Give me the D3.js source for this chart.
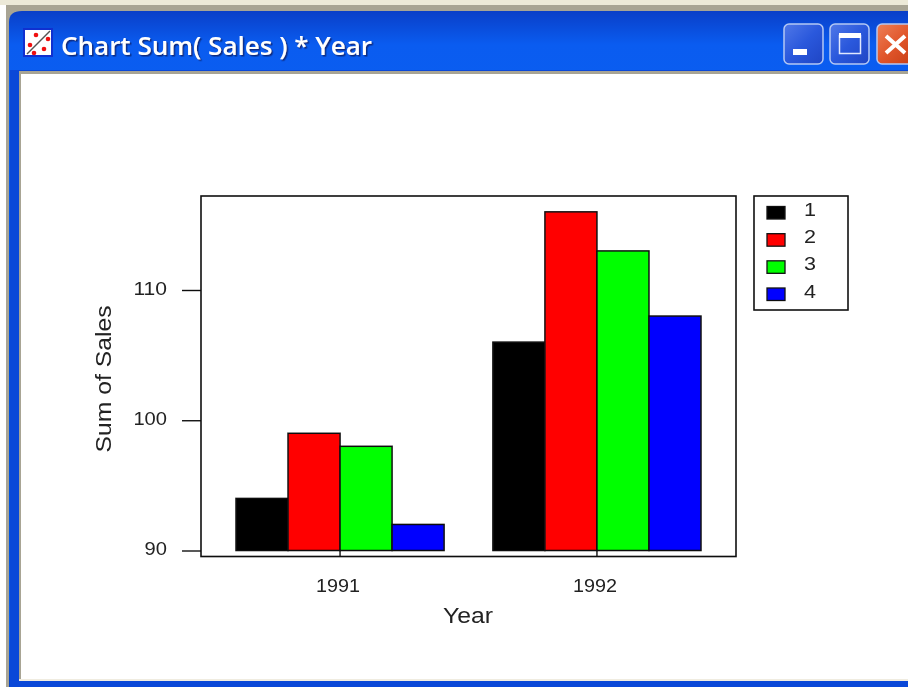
<!DOCTYPE html>
<html><head><meta charset="utf-8">
<script src="https://cdn.jsdelivr.net/npm/d3@7/dist/d3.min.js"></script>
<style>html,body{margin:0;padding:0;background:#fff;overflow:hidden}svg{display:block}text{font-family:"Liberation Sans",Arial,sans-serif}</style>
</head><body><script>
const years = ["1991","1992"];
const groups = ["1","2","3","4"];
const sales1991 = [94,99,98,92];
const sales1992 = [106,116,113,108];
const colors = ["#000000","#ff0000","#00ff00","#0000ff"];
const yTicks = [90,100,110];
const titleText = "Chart Sum( Sales ) * Year";
const xLabel = "Year", yLabel = "Sum of Sales";
const seriesByYear = [sales1991, sales1992];

const W=908,H=687;
const svg=d3.select("body").append("svg").attr("width",W).attr("height",H);
const defs=svg.append("defs");
const lg=(id,stops,x2=0,y2=1)=>{const g=defs.append("linearGradient").attr("id",id).attr("x1",0).attr("y1",0).attr("x2",x2).attr("y2",y2);
  stops.forEach(([o,c])=>g.append("stop").attr("offset",o).attr("stop-color",c));};
lg("tb",[[0,"#0a3fc8"],[0.05,"#0a5cf0"],[0.14,"#0b5ef0"],[0.5,"#0250dc"],[0.8,"#0255e2"],[0.92,"#0a62f4"],[1,"#0340c0"]]);
lg("btn",[[0,"#5078e8"],[0.5,"#2a58dc"],[1,"#1f45c4"]],1,1);
lg("cls",[[0,"#ee8058"],[0.5,"#e0552a"],[1,"#c43c14"]],1,1);
const f=defs.append("filter").attr("id","soft").attr("filterUnits","userSpaceOnUse").attr("x",0).attr("y",0).attr("width",W).attr("height",H);
f.append("feGaussianBlur").attr("stdDeviation",0.6);
const sh=defs.append("filter").attr("id","shadow").attr("x","-5%").attr("y","-20%").attr("width","110%").attr("height","140%");
sh.append("feDropShadow").attr("dx",1.5).attr("dy",1.5).attr("stdDeviation",0.7).attr("flood-color","#0a2a80").attr("flood-opacity",1);

// window frame
const R=(x,y,w,h,fill,g=svg)=>g.append("rect").attr("x",x).attr("y",y).attr("width",w).attr("height",h).attr("fill",fill);
R(0,0,W,H,"#ffffff");
R(0,0,W,5,"#ece9d8");
R(6,5,W-6,H-5,"#a8a494");
svg.append("path").attr("d",`M9 ${H}V22Q9 11 22 11H${W}V${H}Z`).attr("fill","url(#tb)");
R(10,70,W-10,H-70,"#0a48d8");
R(19,71,W-19,3,"#a8a494");
R(19,71,2,H-71-6,"#a8a494");
R(21,74,W-21,606,"#ffffff");
R(19,679,W-19,2,"#f0ece0");

// title icon
const ic=svg.append("g");
R(23,28,30,29,"#1030d0",ic);
R(25,30,26,25,"#ffffff",ic);
ic.append("line").attr("x1",27).attr("y1",54).attr("x2",50).attr("y2",31).attr("stroke","#555").attr("stroke-width",1.5);
[[36,35],[48,39],[30,45],[44,49],[34,53]].forEach(([x,y])=>ic.append("circle").attr("cx",x).attr("cy",y).attr("r",2.3).attr("fill","#f01010"));
// title
svg.append("text").attr("x",61).attr("y",55).attr("fill","#fff").attr("font-size",24.5).attr("font-weight",600)
  .attr("textLength",311).attr("lengthAdjust","spacingAndGlyphs").attr("filter","url(#shadow)")
  .style("font-family","'Open Sans','Liberation Sans',sans-serif").text(titleText);
// buttons
const b=(x,w,fill)=>svg.append("rect").attr("x",x).attr("y",24).attr("width",w).attr("height",40).attr("rx",5).attr("fill",fill).attr("stroke","#b4c8f4").attr("stroke-width",1.5);
b(784,39,"url(#btn)");
b(830,39,"url(#btn)");
b(877,40,"url(#cls)");
R(793,49,14,6,"#fff");
svg.append("rect").attr("x",839.5).attr("y",35.5).attr("width",21).attr("height",18).attr("fill","none").attr("stroke","#e0e8ff").attr("stroke-width",1.5);
R(839,33,22,5,"#fff");
svg.append("path").attr("d","M886 36L905 53M905 36L886 53").attr("stroke","#fff").attr("stroke-width",4);

// chart
const g=svg.append("g").attr("filter","url(#soft)");
const plot={l:201,r:736,t:196,b:556.5};
const x0=d3.scaleBand().domain(years).range([236,701]).paddingInner(0.19).paddingOuter(0);
const x1=d3.scaleBand().domain(groups).range([0,x0.bandwidth()]);
const y=d3.scaleLinear().domain([90,110]).range([550.5,290]);

years.forEach((yr,i)=>{
  g.selectAll(null).data(seriesByYear[i]).join("rect")
    .attr("x",(d,j)=>x0(yr)+x1(groups[j]))
    .attr("y",d=>y(d))
    .attr("width",x1.bandwidth())
    .attr("height",d=>y(90)-y(d))
    .attr("fill",(d,j)=>colors[j])
    .attr("stroke","#111").attr("stroke-width",1.5);
});
g.append("rect").attr("x",plot.l).attr("y",plot.t).attr("width",plot.r-plot.l).attr("height",plot.b-plot.t)
  .attr("fill","none").attr("stroke","#111").attr("stroke-width",1.6);

const ax=g.append("g").attr("transform",`translate(${plot.l},0)`)
  .call(d3.axisLeft(y).tickValues(yTicks).tickSize(19).tickSizeOuter(0).tickPadding(15));
ax.select(".domain").remove();
ax.selectAll("line").attr("stroke","#111").attr("stroke-width",1.4);
ax.selectAll("text").attr("font-size",17.5).attr("fill","#222").attr("dy","0.25em")
  .attr("textLength",function(){return this.textContent.length*11.2;}).attr("lengthAdjust","spacingAndGlyphs");

const bx=g.append("g").attr("transform",`translate(0,${plot.b})`)
  .call(d3.axisBottom(x0).tickSize(0).tickPadding(35));
bx.select(".domain").remove();
bx.selectAll("text").attr("font-size",17.5).attr("fill","#222").attr("dy",0).attr("dx",-2)
  .attr("textLength",44).attr("lengthAdjust","spacingAndGlyphs");
bx.selectAll(".tick").append("line").attr("y1",-7).attr("y2",0).attr("stroke","#111").attr("stroke-width",1.4);

g.append("text").attr("x",468).attr("y",623).attr("text-anchor","middle").attr("font-size",22).attr("fill","#222")
  .attr("textLength",50).attr("lengthAdjust","spacingAndGlyphs").text(xLabel);
g.append("text").attr("transform","translate(111,379) rotate(-90)").attr("text-anchor","middle").attr("font-size",22).attr("fill","#222")
  .attr("textLength",147).attr("lengthAdjust","spacingAndGlyphs").text(yLabel);

// legend
const lgy=d3.scalePoint().domain(groups).range([212.5,294]);
const lty=d3.scalePoint().domain(groups).range([209,291]);
g.append("rect").attr("x",754).attr("y",196).attr("width",94).attr("height",114).attr("fill","#fff").attr("stroke","#111").attr("stroke-width",1.6);
groups.forEach((k,i)=>{
  g.append("rect").attr("x",767).attr("y",lgy(k)-6).attr("width",18).attr("height",12.5).attr("fill",colors[i]).attr("stroke","#111").attr("stroke-width",1.3);
  g.append("text").attr("x",810).attr("y",lty(k)+6.5).attr("text-anchor","middle").attr("font-size",18.5).attr("fill","#222")
    .attr("textLength",12).attr("lengthAdjust","spacingAndGlyphs").text(k);
});
</script></body></html>
